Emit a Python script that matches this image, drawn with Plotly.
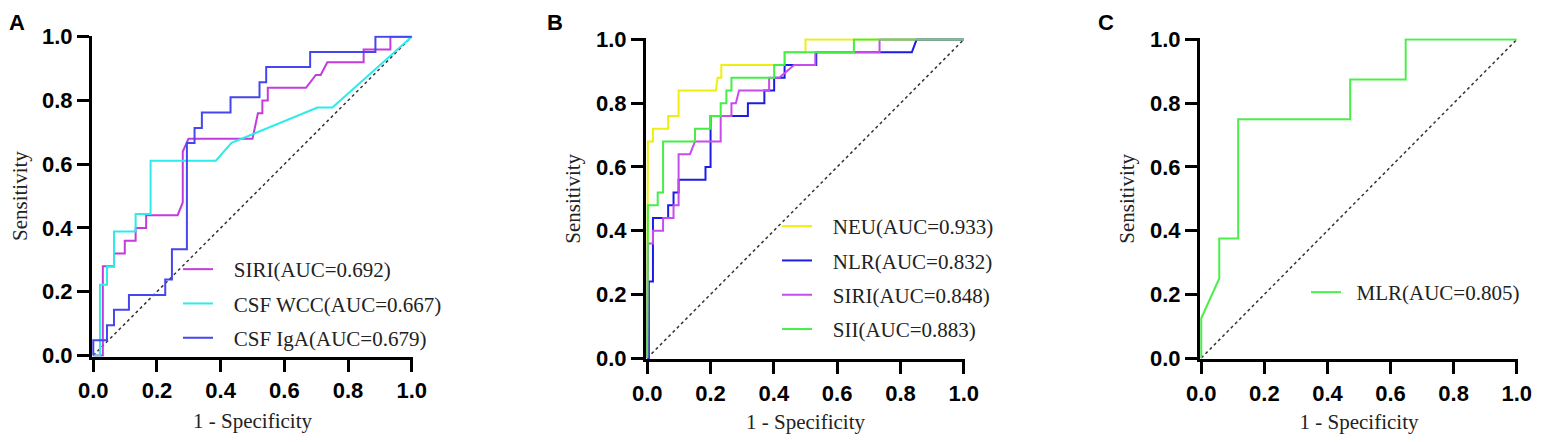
import plotly.graph_objects as go

# the page body adds an 8px margin on every side; keep the figure small enough
# that the 1543x442 window shows it without scrollbars
PAGE_OFF = 8
W, H = 1543 - 2 * PAGE_OFF, 442 - 2 * PAGE_OFF

# ---------------- data (ROC vertices) ----------------
# Panel A
a_siri_fpr = [0, 0.03, 0.03, 0.065, 0.065, 0.099, 0.099, 0.133, 0.133, 0.166, 0.166, 0.265, 0.281, 0.281, 0.299,
              0.5, 0.517, 0.531, 0.531, 0.548, 0.548, 0.668, 0.699, 0.714, 0.735, 0.849, 0.849, 0.933, 0.933, 1.0]
a_siri_tpr = [0, 0, 0.28, 0.28, 0.32, 0.32, 0.36, 0.36, 0.40, 0.40, 0.44, 0.44, 0.48, 0.64, 0.68,
              0.68, 0.76, 0.76, 0.80, 0.80, 0.84, 0.84, 0.88, 0.88, 0.92, 0.92, 0.96, 0.96, 1.0, 1.0]
a_wcc_fpr = [0, 0.021, 0.021, 0.043, 0.043, 0.065, 0.065, 0.133, 0.133, 0.18, 0.18, 0.385, 0.434, 0.704, 0.751, 1.0]
a_wcc_tpr = [0, 0, 0.222, 0.222, 0.278, 0.278, 0.389, 0.389, 0.444, 0.444, 0.611, 0.611, 0.667, 0.778, 0.778, 1.0]
a_iga_fpr = [0, 0, 0.043, 0.043, 0.065, 0.065, 0.112, 0.112, 0.226, 0.226, 0.247, 0.247, 0.294, 0.294, 0.318, 0.318,
             0.341, 0.341, 0.431, 0.431, 0.522, 0.522, 0.543, 0.543, 0.681, 0.681, 0.886, 0.886, 1.0]
a_iga_tpr = [0, 0.048, 0.048, 0.095, 0.095, 0.143, 0.143, 0.19, 0.19, 0.238, 0.238, 0.333, 0.333, 0.667, 0.667, 0.714,
             0.714, 0.762, 0.762, 0.810, 0.810, 0.857, 0.857, 0.905, 0.905, 0.952, 0.952, 1.0, 1.0]

# Panel B
b_neu_fpr = [0, 0.002, 0.018, 0.018, 0.066, 0.066, 0.099, 0.099, 0.217, 0.222, 0.234, 0.234, 0.434, 0.434, 0.5, 0.5, 1.0]
b_neu_tpr = [0, 0.68, 0.68, 0.72, 0.72, 0.76, 0.76, 0.84, 0.84, 0.88, 0.88, 0.92, 0.92, 0.96, 0.96, 1.0, 1.0]
b_nlr_fpr = [0, 0.005, 0.005, 0.018, 0.018, 0.066, 0.066, 0.083, 0.083, 0.099, 0.099, 0.184, 0.184, 0.2, 0.2,
             0.318, 0.318, 0.37, 0.37, 0.401, 0.401, 0.434, 0.434, 0.534, 0.534, 0.836, 0.851, 1.0]
b_nlr_tpr = [0, 0, 0.24, 0.24, 0.44, 0.44, 0.48, 0.48, 0.52, 0.52, 0.56, 0.56, 0.60, 0.60, 0.76,
             0.76, 0.80, 0.80, 0.84, 0.84, 0.88, 0.88, 0.92, 0.92, 0.96, 0.96, 1.0, 1.0]
b_siri_fpr = [0, 0.002, 0.018, 0.018, 0.05, 0.05, 0.083, 0.083, 0.099, 0.099, 0.135, 0.151, 0.232, 0.232, 0.266, 0.266,
              0.28, 0.29, 0.385, 0.385, 0.417, 0.464, 0.531, 0.531, 0.734, 0.734, 1.0]
b_siri_tpr = [0, 0.36, 0.36, 0.40, 0.40, 0.44, 0.44, 0.48, 0.48, 0.64, 0.64, 0.68, 0.68, 0.76, 0.76, 0.80,
              0.80, 0.84, 0.84, 0.88, 0.88, 0.92, 0.92, 0.96, 0.96, 1.0, 1.0]
b_sii_fpr = [0, 0.002, 0.033, 0.033, 0.05, 0.05, 0.151, 0.151, 0.2, 0.2, 0.232, 0.232, 0.25, 0.25, 0.266, 0.266,
             0.401, 0.401, 0.434, 0.434, 0.653, 0.653, 1.0]
b_sii_tpr = [0, 0.48, 0.48, 0.52, 0.52, 0.68, 0.68, 0.72, 0.72, 0.76, 0.76, 0.80, 0.80, 0.84, 0.84, 0.88,
             0.88, 0.92, 0.92, 0.96, 0.96, 1.0, 1.0]

# Panel C
c_mlr_fpr = [0, 0, 0.057, 0.057, 0.117, 0.117, 0.472, 0.472, 0.648, 0.648, 1.0]
c_mlr_tpr = [0, 0.125, 0.25, 0.375, 0.375, 0.75, 0.75, 0.875, 0.875, 1.0, 1.0]

# reference (chance) line
ref_x = [0, 1]
ref_y = [0, 1]

tick_vals = [0, 0.2, 0.4, 0.6, 0.8, 1.0]
tick_text = ["0.0", "0.2", "0.4", "0.6", "0.8", "1.0"]

a_names = ["SIRI(AUC=0.692)", "CSF WCC(AUC=0.667)", "CSF IgA(AUC=0.679)"]
b_names = ["NEU(AUC=0.933)", "NLR(AUC=0.832)", "SIRI(AUC=0.848)", "SII(AUC=0.883)"]
c_names = ["MLR(AUC=0.805)"]
panel_labels = ["A", "B", "C"]
x_title = "1 - Specificity"
y_title = "Sensitivity"

# ---------------- layout helpers (positions given in window pixels) ----------------
def fx(p):
    return (p - PAGE_OFF) / W

def fy(p):
    return 1 - (p - PAGE_OFF) / H

panels = {
    "": dict(x=[fx(92), fx(413)], y=[fy(356.7), fy(35.5)]),
    "2": dict(x=[fx(646), fx(965)], y=[fy(359.3), fy(38.3)]),
    "3": dict(x=[fx(1200), fx(1518)], y=[fy(359.3), fy(38.3)]),
}

fig = go.Figure()

SERIF = "Liberation Serif, Times New Roman, serif"
SANS = "Liberation Sans, Arial, sans-serif"
NB = "\u00a0"

def add_curve(x, y, name, color, axis_suffix, legend, pad):
    fig.add_trace(go.Scatter(
        x=x, y=y, mode="lines", name=NB * pad + name,
        line=dict(color=color, width=2),
        xaxis="x" + axis_suffix, yaxis="y" + axis_suffix,
        legend=legend, legendgroup=name + axis_suffix, showlegend=True,
        hoverinfo="skip"))

def add_ref(axis_suffix):
    fig.add_trace(go.Scatter(
        x=ref_x, y=ref_y, mode="lines", showlegend=False,
        line=dict(color="#333333", width=1.5, dash="dot"),
        xaxis="x" + axis_suffix, yaxis="y" + axis_suffix, hoverinfo="skip"))

# Panel A
add_ref("")
add_curve(a_siri_fpr, a_siri_tpr, a_names[0], "#C43BDB", "", "legend", 3)
add_curve(a_wcc_fpr, a_wcc_tpr, a_names[1], "#2EEBEB", "", "legend", 3)
add_curve(a_iga_fpr, a_iga_tpr, a_names[2], "#4646EE", "", "legend", 3)

# Panel B
add_ref("2")
add_curve(b_neu_fpr, b_neu_tpr, b_names[0], "#EEEE11", "2", "legend2", 3)
add_curve(b_nlr_fpr, b_nlr_tpr, b_names[1], "#1C1CE6", "2", "legend2", 3)
add_curve(b_siri_fpr, b_siri_tpr, b_names[2], "#C84BEE", "2", "legend2", 3)
add_curve(b_sii_fpr, b_sii_tpr, b_names[3], "#44EE44", "2", "legend2", 3)

# Panel C
add_ref("3")
add_curve(c_mlr_fpr, c_mlr_tpr, c_names[0], "#4CEE4C", "3", "legend3", 2)

axis_common = dict(
    range=[-0.004, 1.004], tickvals=tick_vals, ticktext=tick_text,
    showgrid=False, zeroline=False, showline=True, linecolor="black", linewidth=3,
    ticks="outside", ticklen=12, tickwidth=3, tickcolor="black",
    tickfont=dict(family=SANS, size=22, color="black", weight="bold"),
    ticklabeloverflow="allow",
    fixedrange=True, automargin=False,
)

layout = dict(
    width=W, height=H, margin=dict(l=0, r=0, t=0, b=0),
    paper_bgcolor="white", plot_bgcolor="white",
)

for suf, d in panels.items():
    layout["xaxis" + suf] = dict(
        axis_common, domain=d["x"], anchor="y" + suf,
        title=dict(text=x_title, font=dict(family=SERIF, size=21, color="#222222"), standoff=12))
    layout["yaxis" + suf] = dict(
        axis_common, domain=d["y"], anchor="x" + suf,
        title=dict(text=y_title, font=dict(family=SERIF, size=21, color="#222222"), standoff=10))

legend_common = dict(
    bgcolor="rgba(0,0,0,0)", borderwidth=0, xanchor="left", yanchor="top",
    font=dict(family=SERIF, size=21, color="#222222"), itemwidth=30,
    tracegroupgap=4, itemclick=False, itemdoubleclick=False,
)
layout["legend"] = dict(legend_common, x=fx(178), y=fy(249))
layout["legend2"] = dict(legend_common, x=fx(777), y=fy(206))
layout["legend3"] = dict(legend_common, x=fx(1306), y=fy(272))

fig.update_layout(**layout)

# Panel letters
for lab, xp, yp in zip(panel_labels, [8, 546, 1097], [9, 9, 9]):
    fig.add_annotation(text="<b>" + lab + "</b>", xref="paper", yref="paper",
                       x=fx(xp), y=fy(yp), xanchor="left", yanchor="top",
                       borderpad=0, showarrow=False,
                       font=dict(family=SANS, size=22, color="black"))

fig.write_html("out.html")
